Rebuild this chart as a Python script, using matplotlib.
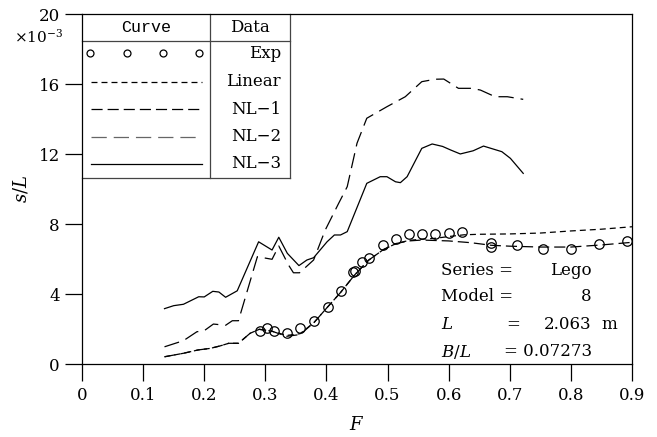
import matplotlib
matplotlib.use("Agg")
import matplotlib.pyplot as plt
from matplotlib.lines import Line2D

plt.rcParams["font.family"] = ["DejaVu Serif"]
plt.rcParams["mathtext.fontset"] = "dejavuserif"
plt.rcParams["lines.scale_dashes"] = False

# ---- DATA (s/L in units of 1e-3) ----
exp_F = [0.291, 0.303, 0.314, 0.335, 0.357, 0.380, 0.402, 0.423, 0.444, 0.447,
         0.458, 0.469, 0.493, 0.514, 0.535, 0.556, 0.578, 0.600, 0.622, 0.670,
         0.670, 0.712, 0.755, 0.800, 0.846, 0.891]
exp_s = [1.90, 2.06, 1.92, 1.77, 2.06, 2.49, 3.27, 4.21, 5.25, 5.33,
         5.83, 6.10, 6.82, 7.15, 7.42, 7.45, 7.45, 7.49, 7.58, 6.95,
         6.70, 6.80, 6.60, 6.60, 6.88, 7.05]

lin_F = [0.135, 0.166, 0.190, 0.210, 0.226, 0.240, 0.256, 0.275, 0.290, 0.310,
         0.335, 0.357, 0.380, 0.400, 0.423, 0.446, 0.469, 0.493, 0.514, 0.535,
         0.556, 0.578, 0.600, 0.625, 0.650, 0.700, 0.750, 0.800, 0.850, 0.900]
lin_s = [0.43, 0.63, 0.82, 0.91, 1.05, 1.20, 1.20, 1.77, 2.00, 1.90,
         1.65, 1.75, 2.40, 3.20, 4.10, 5.10, 5.95, 6.55, 6.90, 7.08,
         7.15, 7.20, 7.30, 7.40, 7.43, 7.45, 7.50, 7.62, 7.72, 7.86]

nl1_F = [0.135, 0.166, 0.190, 0.210, 0.226, 0.240, 0.256, 0.275, 0.290, 0.310,
         0.335, 0.357, 0.380, 0.400, 0.423, 0.446, 0.469, 0.493, 0.514, 0.535,
         0.556, 0.600, 0.636, 0.670, 0.700, 0.750, 0.800, 0.850, 0.900]
nl1_s = [0.43, 0.63, 0.82, 0.91, 1.05, 1.20, 1.20, 1.77, 2.00, 1.90,
         1.60, 1.70, 2.40, 3.20, 4.10, 5.10, 5.95, 6.55, 6.90, 7.05,
         7.10, 7.05, 6.95, 6.80, 6.75, 6.70, 6.70, 6.82, 6.97]

nl2_F = [0.135, 0.166, 0.188, 0.200, 0.215, 0.235, 0.246, 0.256, 0.287, 0.311,
         0.322, 0.338, 0.346, 0.356, 0.379, 0.398, 0.420, 0.434, 0.450, 0.466,
         0.499, 0.529, 0.556, 0.578, 0.592, 0.616, 0.638, 0.652, 0.676, 0.696,
         0.722]
nl2_s = [1.00, 1.35, 1.86, 1.92, 2.30, 2.23, 2.49, 2.49, 6.15, 6.00,
         6.76, 5.67, 5.23, 5.23, 5.96, 7.67, 9.20, 10.15, 12.63, 14.06,
         14.72, 15.29, 16.15, 16.29, 16.30, 15.77, 15.77, 15.67, 15.29, 15.29,
         15.14]

nl3_F = [0.135, 0.150, 0.166, 0.191, 0.200, 0.214, 0.224, 0.235, 0.254, 0.289,
         0.311, 0.322, 0.336, 0.355, 0.368, 0.379, 0.401, 0.413, 0.423, 0.434,
         0.455, 0.466, 0.488, 0.499, 0.513, 0.521, 0.532, 0.556, 0.573, 0.590,
         0.603, 0.619, 0.640, 0.657, 0.687, 0.701, 0.722]
nl3_s = [3.18, 3.35, 3.43, 3.86, 3.85, 4.17, 4.13, 3.83, 4.20, 7.00,
         6.53, 7.26, 6.34, 5.64, 5.96, 6.09, 7.00, 7.39, 7.39, 7.58,
         9.39, 10.34, 10.72, 10.72, 10.43, 10.38, 10.72, 12.34, 12.59, 12.45,
         12.25, 12.02, 12.20, 12.47, 12.15, 11.77, 10.91]

x_ticks = [0, 0.1, 0.2, 0.3, 0.4, 0.5, 0.6, 0.7, 0.8, 0.9]
x_tick_labels = ["0", "0.1", "0.2", "0.3", "0.4", "0.5", "0.6", "0.7", "0.8", "0.9"]
y_ticks = [0, 4, 8, 12, 16, 20]
y_tick_labels = ["0", "4", "8", "12", "16", "20"]

legend_names = ["Exp", "Linear", "NL\u22121", "NL\u22122", "NL\u22123"]

info_keys = ["Series =", "Model =", "$L$", "$B/L$"]
info_vals = ["Lego", "8", "2.063", "= 0.07273"]

# ---- STYLES ----
dash_lin = (0, (4.3, 2.9))
dash_nl1 = (0, (8.0, 3.6))
dash_nl2 = (0, (11.0, 5.0))
lw = 0.9
fs = 12

fig = plt.figure(figsize=(6.57, 4.37), dpi=100)
ax = fig.add_axes([82 / 657, 1 - 364.3 / 437, 550 / 657, 350 / 437])

ax.plot(lin_F, lin_s, color="black", lw=lw, linestyle=dash_lin)
ax.plot(nl1_F, nl1_s, color="black", lw=lw, linestyle=dash_nl1)
ax.plot(nl2_F, nl2_s, color="black", lw=lw, linestyle=dash_nl2)
ax.plot(nl3_F, nl3_s, color="black", lw=lw)
ax.plot(exp_F, exp_s, linestyle="none", marker="o", markersize=6.8,
        markerfacecolor="none", markeredgecolor="black", markeredgewidth=0.9)

ax.set_xlim(0, 0.9)
ax.set_ylim(0, 20)
ax.set_xticks(x_ticks)
ax.set_xticklabels(x_tick_labels)
ax.set_yticks(y_ticks)
ax.set_yticklabels(y_tick_labels)
ax.tick_params(direction="out", length=12, width=0.9, labelsize=fs, pad=4)
for s in ax.spines.values():
    s.set_linewidth(0.9)

ax.set_xlabel("$F$", fontsize=13, labelpad=9)
ax.set_ylabel("$s/L$", fontsize=13, labelpad=6)
ax.text(-0.035, 0.935, r"$\times10^{-3}$", transform=ax.transAxes,
        ha="right", va="center", fontsize=11)

# ---- LEGEND TABLE ----
T = ax.transAxes
box_r, div_x, head_y, box_b = 0.378, 0.2327, 0.9246, 0.533
for xs, ys in [([0, box_r], [head_y, head_y]), ([box_r, box_r], [1, box_b]),
               ([0, box_r], [box_b, box_b]), ([div_x, div_x], [1, box_b])]:
    ax.add_line(Line2D(xs, ys, transform=T, color="#444444", lw=0.9, clip_on=False))

ax.text(0.1164, 0.961, "Curve", transform=T, ha="center", va="center",
        fontsize=fs, family="Liberation Mono")
ax.text(0.3055, 0.961, "Data", transform=T, ha="center", va="center", fontsize=fs)

row_y = [0.8886, 0.8074, 0.7294, 0.6503, 0.5723]
ax.add_line(Line2D([0.0145, 0.0818, 0.147, 0.2127], [row_y[0]] * 4, transform=T,
                   linestyle="none", marker="o", markersize=5, markerfacecolor="none",
                   markeredgecolor="black", markeredgewidth=0.9))
styles = [(dash_lin, "black"), (dash_nl1, "black"), (dash_nl2, "#666666"), ("-", "black")]
for (ls, c), yy in zip(styles, row_y[1:]):
    ax.add_line(Line2D([0.0164, 0.218], [yy, yy], transform=T, color=c, lw=lw, linestyle=ls))
for name, yy in zip(legend_names, row_y):
    ax.text(0.3618, yy, name, transform=T, ha="right", va="center", fontsize=fs)

# ---- INFO BLOCK ----
info_y = [0.2694, 0.1934, 0.1123, 0.036]
for k, v, yy in zip(info_keys, info_vals, info_y):
    ax.text(0.6527, yy, k, transform=T, ha="left", va="center", fontsize=fs)
    ax.text(0.927, yy, v, transform=T, ha="right", va="center", fontsize=fs)
ax.text(0.7836, info_y[2], "=", transform=T, ha="center", va="center", fontsize=fs)
ax.text(0.945, info_y[2], "m", transform=T, ha="left", va="center", fontsize=fs)

fig.savefig("out.png", dpi=100)
